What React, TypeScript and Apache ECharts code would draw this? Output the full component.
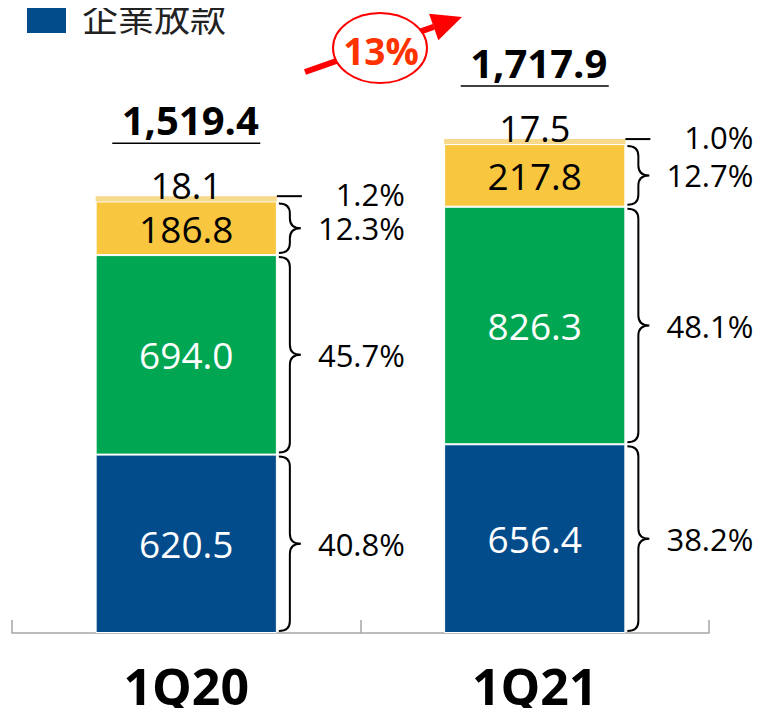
import React, { useEffect, useRef } from "react";
import * as echarts from "echarts";

const categories = ["1Q20", "1Q21"];
const corporate = [620.5, 656.4];
const mortgage = [694.0, 826.3];
const consumer = [186.8, 217.8];
const others = [18.1, 17.5];
const totals = [1519.4, 1717.9];
const totalLabels = ["1,519.4", "1,717.9"];
const corporatePct = ["40.8%", "38.2%"];
const mortgagePct = ["45.7%", "48.1%"];
const consumerPct = ["12.3%", "12.7%"];
const othersPct = ["1.2%", "1.0%"];
const growthLabel = "13%";
const legendLabel = "企業放款";

const FONT = "'Open Sans', 'Noto Sans', sans-serif";
const CJK = "'Noto Sans CJK TC', 'Noto Sans CJK SC', sans-serif";
const BLUE = "#034C8C";
const GREEN = "#00A651";
const YELLOW = "#F9C73F";
const PALE = "#F7D98C";
const BAR_RATIO = 0.52;

function bracePath(x: number, yTop: number, yBot: number) {
  const w = 22;
  const xm = x + w * 0.5;
  const xt = x + w;
  const ym = (yTop + yBot) / 2;
  const r = Math.min(10, (yBot - yTop) / 4);
  return (
    `M${x},${yTop} Q${xm},${yTop} ${xm},${yTop + r} L${xm},${ym - r} ` +
    `Q${xm},${ym} ${xt},${ym} Q${xm},${ym} ${xm},${ym + r} L${xm},${yBot - r} ` +
    `Q${xm},${yBot} ${x},${yBot}`
  );
}

export default function App() {
  const ref = useRef<HTMLDivElement>(null);
  useEffect(() => {
    if (!ref.current) return;
    const chart = echarts.init(ref.current, undefined, { renderer: "svg" });

    const renderAnnotations = (params: any, api: any) => {
      const i = api.value(0);
      const base = api.coord([i, 0]);
      const cx = base[0];
      const half = (api.size([1, 0])[0] * BAR_RATIO) / 2;
      const right = cx + half;
      const segs = [corporate[i], mortgage[i], consumer[i]];
      const pcts = [corporatePct[i], mortgagePct[i], consumerPct[i]];
      const children: any[] = [];
      let cum = 0;
      segs.forEach((v, k) => {
        const yB = api.coord([i, cum])[1];
        cum += v;
        const yT = api.coord([i, cum])[1];
        children.push({
          type: "path",
          shape: { pathData: bracePath(right + 2, yT + 2, yB - 2) },
          style: { fill: "none", stroke: "#000", lineWidth: 2 },
        });
        children.push({
          type: "text",
          style: {
            text: pcts[k],
            x: right + 128,
            y: (yT + yB) / 2,
            align: "right",
            verticalAlign: "middle",
            fontSize: 31,
            fontFamily: FONT,
            fill: "#000",
          },
        });
      });
      cum += others[i];
      const yTop = api.coord([i, cum])[1];
      children.push({
        type: "line",
        shape: { x1: right, y1: yTop, x2: right + 25, y2: yTop },
        style: { stroke: "#000", lineWidth: 2 },
      });
      children.push({
        type: "text",
        style: {
          text: othersPct[i],
          x: right + 128,
          y: yTop - 2,
          align: "right",
          verticalAlign: "middle",
          fontSize: 31,
          fontFamily: FONT,
          fill: "#000",
        },
      });
      children.push({
        type: "text",
        style: {
          text: others[i].toFixed(1),
          x: cx,
          y: yTop - 11,
          align: "center",
          verticalAlign: "middle",
          fontSize: 36,
          fontFamily: FONT,
          fill: "#000",
        },
      });
      const yTot = api.coord([i, totals[i]])[1];
      children.push({
        type: "text",
        style: {
          text: totalLabels[i],
          x: cx + 4,
          y: yTot - 77,
          align: "center",
          verticalAlign: "middle",
          fontSize: 40,
          fontWeight: "bold",
          fontFamily: FONT,
          fill: "#000",
        },
      });
      children.push({
        type: "line",
        shape: { x1: cx - 74, y1: yTot - 53, x2: cx + 74, y2: yTot - 53 },
        style: { stroke: "#000", lineWidth: 1.5 },
      });
      return { type: "group", children };
    };

    const barLabel = (color: string) => ({
      show: true,
      position: "inside",
      color,
      fontSize: 37,
      fontFamily: FONT,
      formatter: (p: any) => Number(p.value).toFixed(1),
    });

    const tip = [462, 17];
    const start = [305, 72];
    const dx = tip[0] - start[0];
    const dy = tip[1] - start[1];
    const len = Math.hypot(dx, dy);
    const ux = dx / len, uy = dy / len;
    const nx = -uy, ny = ux;
    const bx = tip[0] - 30 * ux, by = tip[1] - 30 * uy;

    chart.setOption({
      animation: false,
      grid: { left: 12, right: 54, top: 58, bottom: 83, containLabel: false },
      xAxis: {
        type: "category",
        data: categories,
        axisLine: { lineStyle: { color: "#A6A6A6", width: 1.5 } },
        axisTick: {
          show: true,
          inside: true,
          length: 13,
          alignWithLabel: false,
          lineStyle: { color: "#A6A6A6", width: 1.5 },
        },
        axisLabel: {
          fontSize: 50,
          fontWeight: "bold",
          fontFamily: FONT,
          color: "#000",
          margin: 28,
        },
      },
      yAxis: {
        type: "value",
        min: 0,
        max: 2000,
        show: false,
        splitLine: { show: false },
      },
      series: [
        {
          name: legendLabel,
          type: "bar",
          stack: "loans",
          barWidth: "52%",
          data: corporate,
          itemStyle: { color: BLUE, borderColor: "#fff", borderWidth: 1 },
          label: barLabel("#fff"),
        },
        {
          name: "房屋貸款",
          type: "bar",
          stack: "loans",
          data: mortgage,
          itemStyle: { color: GREEN, borderColor: "#fff", borderWidth: 1 },
          label: barLabel("#fff"),
        },
        {
          name: "消費貸款",
          type: "bar",
          stack: "loans",
          data: consumer,
          itemStyle: { color: YELLOW, borderColor: "#fff", borderWidth: 1 },
          label: barLabel("#000"),
        },
        {
          name: "其他",
          type: "bar",
          stack: "loans",
          data: others,
          itemStyle: { color: PALE },
        },
        {
          name: "annotations",
          type: "custom",
          clip: false,
          silent: true,
          data: categories.map((_, i) => [i, totals[i]]),
          encode: { x: 0, y: 1 },
          renderItem: renderAnnotations,
          z: 10,
        },
      ],
      graphic: [
        {
          type: "rect",
          shape: { x: 27, y: 0, width: 39, height: 33 },
          style: { fill: BLUE },
        },
        {
          type: "text",
          x: 82,
          y: 16,
          style: {
            text: legendLabel,
            align: "left",
            verticalAlign: "middle",
            fontSize: 36,
            fontFamily: CJK,
            fill: "#222",
          },
        },
        {
          type: "line",
          shape: { x1: start[0], y1: start[1], x2: bx, y2: by },
          style: { stroke: "#FF0000", lineWidth: 6 },
          z: 5,
        },
        {
          type: "polygon",
          shape: {
            points: [
              tip,
              [bx + 14 * nx, by + 14 * ny],
              [bx - 14 * nx, by - 14 * ny],
            ],
          },
          style: { fill: "#FF0000" },
          z: 5,
        },
        {
          type: "ellipse",
          shape: { cx: 380, cy: 48, rx: 47, ry: 35 },
          style: { fill: "#fff", stroke: "#FF0000", lineWidth: 2 },
          z: 6,
        },
        {
          type: "text",
          x: 381,
          y: 50,
          style: {
            text: growthLabel,
            align: "center",
            verticalAlign: "middle",
            fontSize: 37,
            fontWeight: "bold",
            fontFamily: FONT,
            fill: "#FF3300",
          },
          z: 7,
        },
      ],
    });
    return () => chart.dispose();
  }, []);

  return <div ref={ref} style={{ width: 763, height: 716, margin: -8 }} />;
}
